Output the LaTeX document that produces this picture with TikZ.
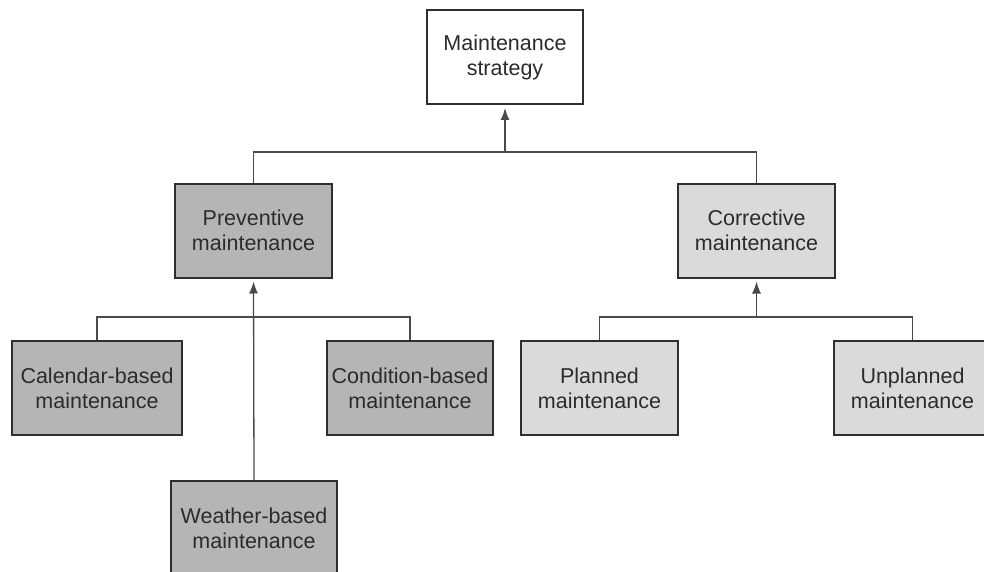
\documentclass[tikz,border=0pt]{standalone}
\usepackage{fontspec}
\setmainfont{Liberation Sans}
\usetikzlibrary{arrows.meta}
\definecolor{darkfill}{HTML}{B5B5B5}
\definecolor{lightfill}{HTML}{DADADA}
\definecolor{boxline}{HTML}{2E2E2E}
\definecolor{linkc}{HTML}{4A4A4A}
\definecolor{txt}{HTML}{2B2B2B}
\begin{document}
\begin{tikzpicture}[x=1pt,y=-1pt,
  box/.style={draw=boxline, line width=2pt, minimum height=94pt, inner sep=0pt,
    align=center, font=\fontsize{21.5}{25}\selectfont, text=txt},
  whitebox/.style={box, fill=white},
  dark/.style={box, fill=darkfill},
  light/.style={box, fill=lightfill},
  link/.style={draw=linkc, line width=1.3pt},
  up/.style={link, arrows={-Latex[length=12pt,width=9pt]}, shorten >=3pt}]
\useasboundingbox (0,0) rectangle (984,572);
\clip (0,0) rectangle (984,572);

% root
\node[whitebox, minimum width=156pt] (root) at (505,57) {Maintenance\\strategy};

% second level
\node[dark, minimum width=157pt] (prev) at (253.5,230.5) {Preventive\\maintenance};
\node[light, minimum width=157pt] (corr) at (756.5,230.5) {Corrective\\maintenance};

% preventive branch
\node[dark, minimum width=170pt] (cal) at (97,388) {Calendar-based\\maintenance};
\node[dark, minimum width=166pt] (cond) at (410,388) {Condition-based\\maintenance};
\node[dark, minimum width=166pt] (wea) at (254,528) {Weather-based\\maintenance};

% corrective branch
\node[light, minimum width=157pt] (plan) at (599.5,388) {Planned\\maintenance};
\node[light, minimum width=157pt] (unpl) at (912.5,388) {Unplanned\\maintenance};

% junction points
\coordinate (j1) at (505,152);
\coordinate (j2) at (253.5,317);
\coordinate (j3) at (756.5,317);

% connectors to the root
\draw[link] (prev.north) |- (j1) -| (corr.north);
\draw[up] (j1) -- (root.south);

% connectors in the preventive branch
\draw[link] (cal.north) |- (j2) -| (cond.north);
\draw[up] (wea.north) -- (prev.south);

% connectors in the corrective branch
\draw[link] (plan.north) |- (j3) -| (unpl.north);
\draw[up] (j3) -- (corr.south);
\end{tikzpicture}
\end{document}
